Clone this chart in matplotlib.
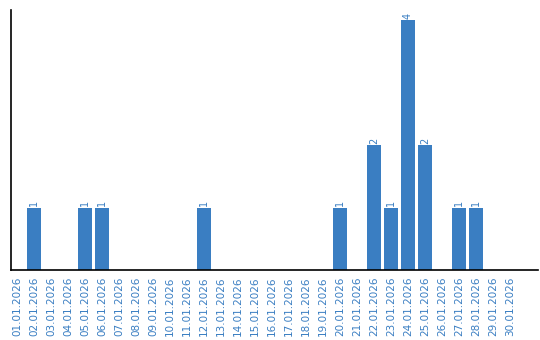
import matplotlib
matplotlib.use('Agg')
import matplotlib.pyplot as plt

# dates of January 2026 and counts per day
days = ['%02d.01.2026' % d for d in range(1, 31)]
counts = [0, 1, 0, 0, 1, 1, 0, 0, 0, 0,
          0, 1, 0, 0, 0, 0, 0, 0, 0, 1,
          0, 2, 1, 4, 2, 0, 1, 1, 0, 0]

blue = '#3a7ec2'

fig = plt.figure(figsize=(5.4, 3.4), dpi=100)
ax = fig.add_axes([11 / 540, 70 / 340, 527 / 540, 260 / 340])

x = list(range(len(days)))
bars = ax.bar(x, counts, width=0.82, color=blue)

# value labels above bars (skip zeros)
for xi, v in zip(x, counts):
    if v > 0:
        ax.text(xi, v + 0.02, str(v), rotation=90, ha='center', va='bottom',
                fontsize=7, color=blue)

ax.set_xlim(-6 / 17, 527 / 17 - 6 / 17)
ax.set_ylim(0, 4.16)
ax.set_xticks(x)
ax.set_xticklabels(days, rotation=90, fontsize=7.5, color=blue)
ax.tick_params(axis='x', length=0, pad=4.5)
ax.set_yticks([])
ax.spines['top'].set_visible(False)
ax.spines['right'].set_visible(False)
ax.spines['left'].set_linewidth(1.2)
ax.spines['bottom'].set_linewidth(1.2)

plt.savefig('out.png', dpi=100)
